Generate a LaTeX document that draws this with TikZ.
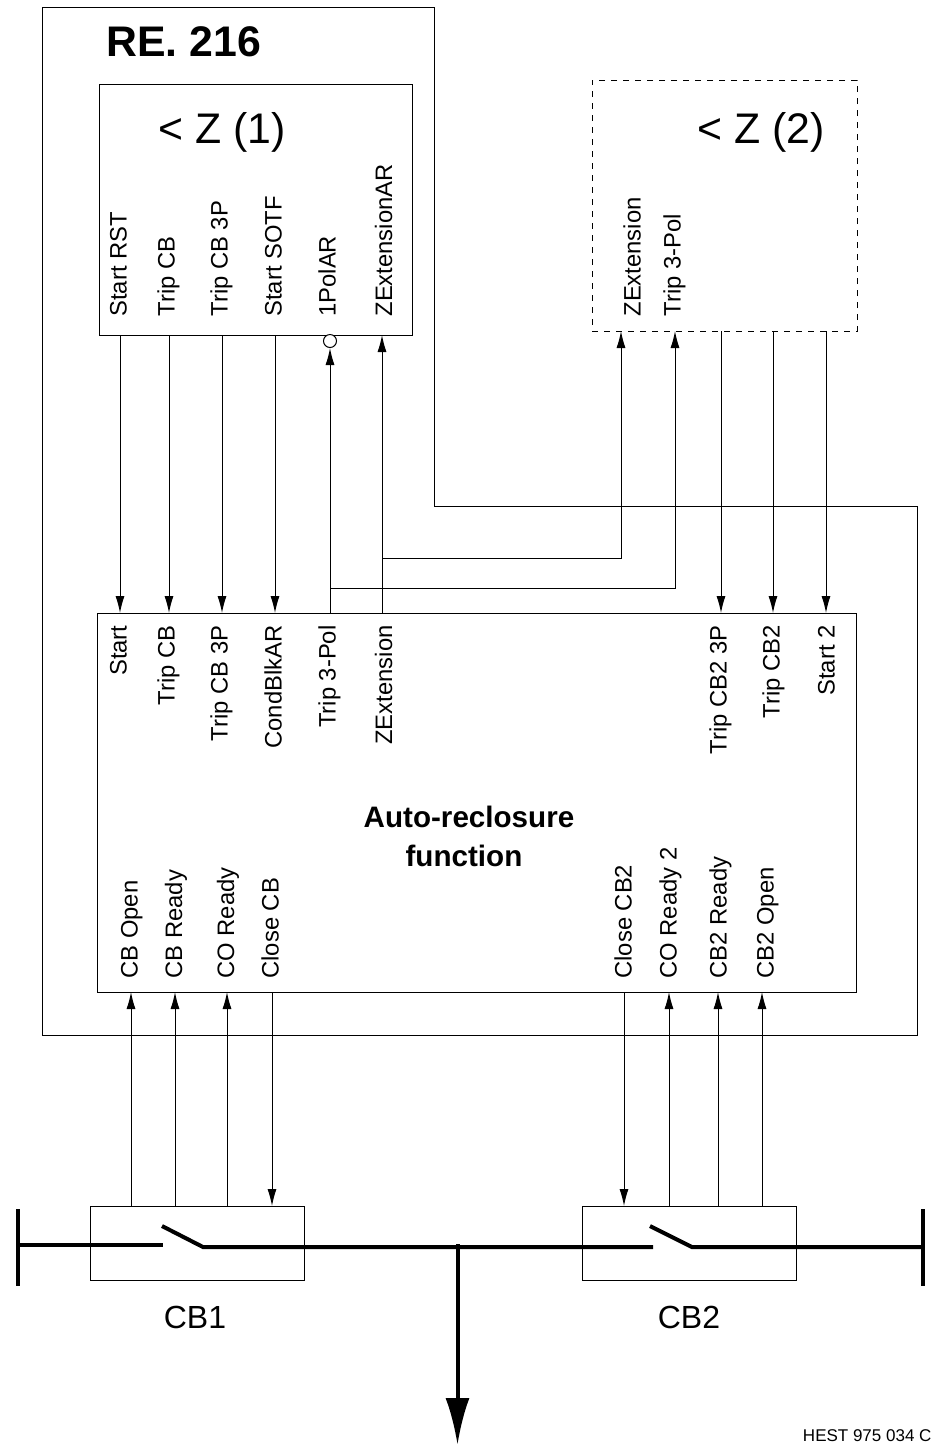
\documentclass[tikz,border=0pt]{standalone}
\usepackage{fontspec}
\setmainfont{Liberation Sans}
\usetikzlibrary{arrows.meta}
\tikzset{
  box/.style={draw,inner sep=0pt,line width=0.5pt},
  sigtext/.style={inner sep=0pt,rotate=90,text height=8.6pt,text depth=2.5pt,font=\fontsize{11.9}{14}\selectfont},
  sigup/.style={sigtext,anchor=west},
  sigdown/.style={sigtext,anchor=east},
  bigtext/.style={inner sep=0pt,anchor=west,font=\fontsize{21.4}{25}\selectfont},
  cbtext/.style={inner sep=0pt,font=\fontsize{16}{19}\selectfont},
  wire/.style={line width=0.5pt},
  sig/.style={wire,-{Latex[length=8.5pt,width=4.5pt]}},
  bus/.style={line width=2pt},
  bubble/.style={draw,circle,fill=white,inner sep=0pt,minimum size=6.5pt,line width=0.5pt}
}
\begin{document}
\begin{tikzpicture}[x=0.5pt,y=-0.5pt,line width=0.5pt]
  \useasboundingbox (0,0) rectangle (944,1448);
  % RE. 216 outline
  \coordinate (reA) at (42,7.5);
  \coordinate (reB) at (434,7.5);
  \coordinate (reC) at (434,506);
  \coordinate (reD) at (917,506);
  \coordinate (reE) at (917,1035);
  \coordinate (reF) at (42,1035);
  \draw[wire] (reA)--(reB)--(reC)--(reD)--(reE)--(reF)--cycle;
  \node[inner sep=0pt,anchor=west,font=\bfseries\fontsize{21.4}{25}\selectfont] (reTitle) at (106,42) {RE. 216};

  % boxes
  \node[box,minimum width=156.5pt,minimum height=125.25pt] (zOne) at (255.5,209.75) {};
  \node[box,dashed,minimum width=132.5pt,minimum height=125.5pt] (zTwo) at (724.5,205.5) {};
  \node[box,minimum width=379.5pt,minimum height=189.5pt] (arBox) at (476.5,802.5) {};
  \node[box,minimum width=107pt,minimum height=37pt] (cbOne) at (197,1243) {};
  \node[box,minimum width=107pt,minimum height=37pt] (cbTwo) at (689,1243) {};

  \node[bigtext] (zOneTitle) at (158,132) {< Z (1)};
  \node[bigtext] (zTwoTitle) at (697,132) {< Z (2)};

  % Z(1) labels
  \node[sigup] (zStart) at (120.5,317) {Start RST};
  \node[sigup] (zTrip) at (168.5,317) {Trip CB};
  \node[sigup] (zTripP) at (221.5,317) {Trip CB 3P};
  \node[sigup] (zSotf) at (275.5,317) {Start SOTF};
  \node[sigup] (zPol) at (329.5,317) {1PolAR};
  \node[sigup] (zExt) at (386,317) {ZExtensionAR};

  % Z(2) labels
  \node[sigup] (yExt) at (634.5,317) {ZExtension};
  \node[sigup] (yPol) at (674.5,317) {Trip 3-Pol};

  % auto-reclosure labels, top row
  \node[sigdown] (arStart) at (120.5,625) {Start};
  \node[sigdown] (arTrip) at (168.5,625) {Trip CB};
  \node[sigdown] (arTripP) at (221.5,625) {Trip CB 3P};
  \node[sigdown] (arBlk) at (275.5,625) {CondBlkAR};
  \node[sigdown] (arPol) at (329.5,625) {Trip 3-Pol};
  \node[sigdown] (arExt) at (386,625) {ZExtension};
  \node[sigdown] (arTwoP) at (720.5,625) {Trip CB2 3P};
  \node[sigdown] (arTwo) at (773.5,625) {Trip CB2};
  \node[sigdown] (arStartTwo) at (828.5,625) {Start 2};

  \node[inner sep=0pt,align=center,font=\bfseries\fontsize{14.8}{19.5}\selectfont] (arTitle) at (469,836) {Auto-reclosure\\function\hspace*{5pt}};

  % auto-reclosure labels, bottom row
  \node[sigup] (arOpen) at (131.5,979) {CB Open};
  \node[sigup] (arReady) at (176,979) {CB Ready};
  \node[sigup] (arCo) at (228,979) {CO Ready};
  \node[sigup] (arClose) at (272.5,979) {Close CB};
  \node[sigup] (arCloseTwo) at (625.5,979) {Close CB2};
  \node[sigup] (arCoTwo) at (670.5,979) {CO Ready 2};
  \node[sigup] (arReadyTwo) at (720.5,979) {CB2 Ready};
  \node[sigup] (arOpenTwo) at (767.5,979) {CB2 Open};

  % Z(1) to auto-reclosure
  \coordinate (pA) at (120,335);
  \coordinate (qA) at (120,613);
  \coordinate (pB) at (169,335);
  \coordinate (qB) at (169,613);
  \coordinate (pC) at (222,335);
  \coordinate (qC) at (222,613);
  \coordinate (pD) at (275,335);
  \coordinate (qD) at (275,613);
  \coordinate (qE) at (330,613);
  \coordinate (pF) at (382,335);
  \coordinate (qF) at (382,613);
  \node[bubble] (zBubble) at (330,341) {};
  \draw[sig] (pA)--(qA);
  \draw[sig] (pB)--(qB);
  \draw[sig] (pC)--(qC);
  \draw[sig] (pD)--(qD);
  \draw[sig] (qE)--(zBubble.south);
  \draw[sig] (qF)--(pF);

  % branches to Z(2)
  \coordinate (brExt) at (382,558);
  \coordinate (brExtB) at (621,558);
  \coordinate (yA) at (621,331);
  \coordinate (brPol) at (330,588);
  \coordinate (brPolB) at (675,588);
  \coordinate (yB) at (675,331);
  \draw[sig] (brExt)--(brExtB)--(yA);
  \draw[sig] (brPol)--(brPolB)--(yB);

  % Z(2) to auto-reclosure
  \coordinate (yC) at (721,331);
  \coordinate (qG) at (721,613);
  \coordinate (yD) at (773,331);
  \coordinate (qH) at (773,613);
  \coordinate (yE) at (826,331);
  \coordinate (qI) at (826,613);
  \draw[sig] (yC)--(qG);
  \draw[sig] (yD)--(qH);
  \draw[sig] (yE)--(qI);

  % breakers to auto-reclosure
  \coordinate (rA) at (131,992);
  \coordinate (sA) at (131,1206);
  \coordinate (rB) at (175,992);
  \coordinate (sB) at (175,1206);
  \coordinate (rC) at (227,992);
  \coordinate (sC) at (227,1206);
  \coordinate (rD) at (272,992);
  \coordinate (sD) at (272,1206);
  \draw[sig] (sA)--(rA);
  \draw[sig] (sB)--(rB);
  \draw[sig] (sC)--(rC);
  \draw[sig] (rD)--(sD);
  \coordinate (rE) at (624,992);
  \coordinate (sE) at (624,1206);
  \coordinate (rF) at (669,992);
  \coordinate (sF) at (669,1206);
  \coordinate (rG) at (718,992);
  \coordinate (sG) at (718,1206);
  \coordinate (rH) at (762,992);
  \coordinate (sH) at (762,1206);
  \draw[sig] (rE)--(sE);
  \draw[sig] (sF)--(rF);
  \draw[sig] (sG)--(rG);
  \draw[sig] (sH)--(rH);

  % bus bar
  \coordinate (barLa) at (17.5,1209);
  \coordinate (barLb) at (17.5,1286);
  \coordinate (barRa) at (923,1209);
  \coordinate (barRb) at (923,1286);
  \coordinate (busA) at (17,1245);
  \coordinate (busB) at (163,1245);
  \coordinate (bladeA) at (162,1226);
  \coordinate (bladeB) at (203,1247);
  \coordinate (busC) at (653,1247);
  \coordinate (bladeC) at (650,1226);
  \coordinate (bladeD) at (692,1247);
  \coordinate (busD) at (923,1247);
  \draw[bus] (barLa)--(barLb);
  \draw[bus] (barRa)--(barRb);
  \draw[bus] (busA)--(busB);
  \draw[bus] (bladeA)--(bladeB)--(busC);
  \draw[bus] (bladeC)--(bladeD)--(busD);
  \coordinate (feedA) at (457.5,1244);
  \coordinate (feedB) at (457.5,1445);
  \draw[bus,-{Latex[length=23.5pt,width=12pt,sep=0pt]}] (feedA)--(feedB);

  \node[cbtext] (cbOneText) at (195,1317) {CB1};
  \node[cbtext] (cbTwoText) at (689,1317) {CB2};
  \node[inner sep=0pt,anchor=east,font=\fontsize{8.5}{10}\selectfont] (hest) at (932,1436) {HEST 975 034 C};
\end{tikzpicture}
\end{document}
